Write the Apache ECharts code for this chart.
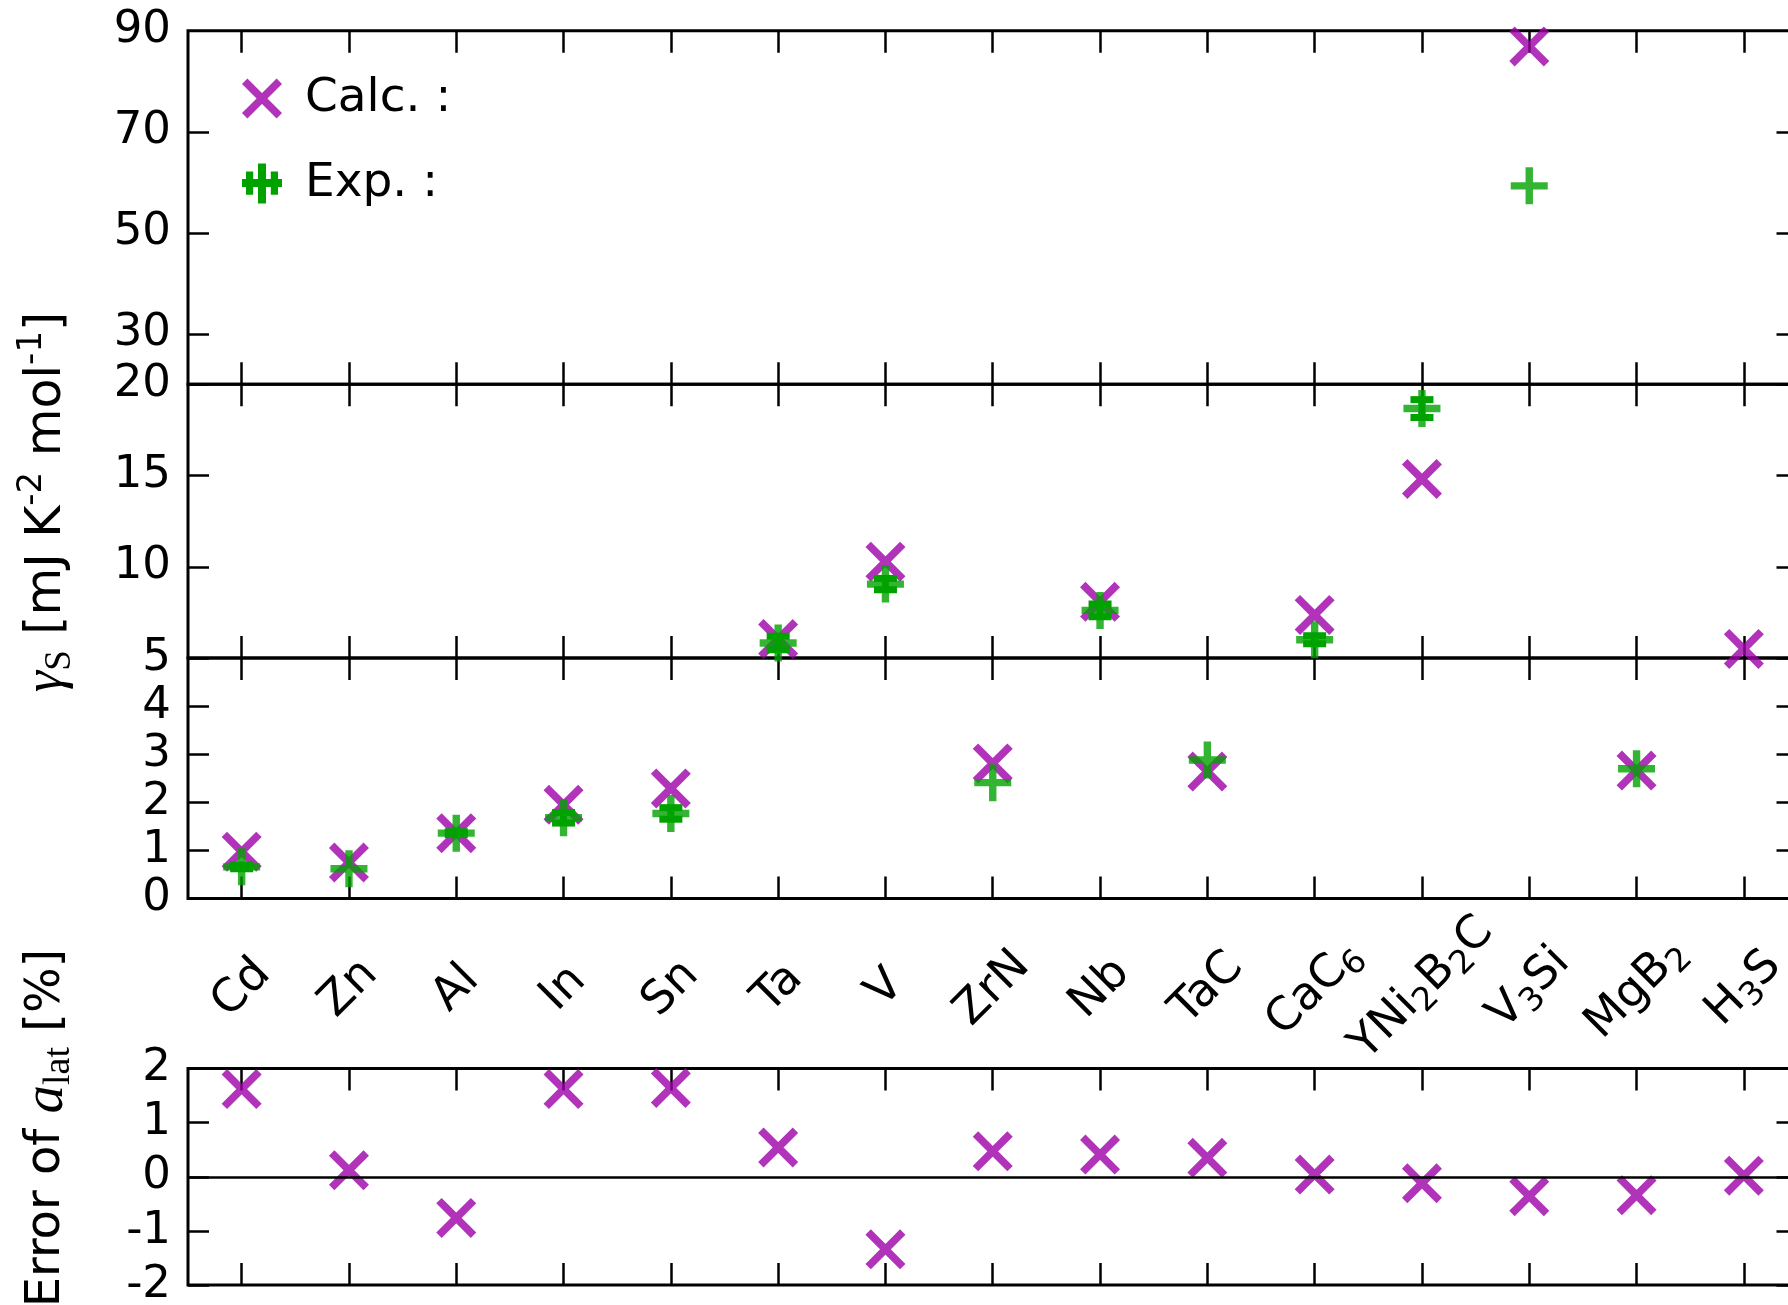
<!DOCTYPE html>
<html><head><meta charset="utf-8">
<script src="https://cdn.jsdelivr.net/npm/echarts@6/dist/echarts.min.js"></script>
<style>html,body{margin:0;padding:0;background:#fff}#c{width:1788px;height:1305px}</style>
</head><body><div id="c"></div>
<script>
// ---------------- data ----------------
const materials = ['Cd','Zn','Al','In','Sn','Ta','V','ZrN','Nb','TaC','CaC6','YNi2B2C','V3Si','MgB2','H3S'];
const materialLabels = ['Cd','Zn','Al','In','Sn','Ta','V','ZrN','Nb','TaC','CaC{s|6}','YNi{s|2}B{s|2}C','V{s|3}Si','MgB{s|2}','H{s|3}S'];
const gammaCalc = [0.975,0.75,1.36,1.95,2.29,6.04,10.28,2.81,8.08,2.64,7.36,14.81,86.9,2.66,5.5];
const gammaExp = [0.66,0.62,1.36,1.68,1.77,5.82,9.05,2.41,7.61,2.88,6.0,18.67,59.3,2.70,null];
const gammaExpErr = [0.04,0,0.03,0.11,0.12,0.37,0.31,0,0.35,0,0.22,0.49,0,0,null];
const latErr = [1.62,0.12,-0.76,1.62,1.64,0.54,-1.34,0.47,0.41,0.35,0.04,-0.12,-0.36,-0.34,0.02];
const topLabelTicks = [30,50,70,90];
const topInnerTicks = [30,50,70];
const midLabelTicks = [10,15,20];

// ---------------- style ----------------
const PURPLE = '#9c00a8', GREEN = '#00a200';
const FONT = 'DejaVu Sans';
const XPATH = 'path://M0,13.5L13.5,0L100,86.5L86.5,100ZM13.5,100L0,86.5L86.5,0L100,13.5Z';
const PLUS = 'path://M40,0L60,0L60,40L100,40L100,60L60,60L60,100L40,100L40,60L0,60L0,40L40,40Z';
const EXPLEG = 'path://M0,39L100,39L100,59L0,59ZM40,0L60,0L60,100L40,100ZM10,20L28,20L28,78L10,78ZM72,20L90,20L90,78L72,78Z';

const L = 188, W = 1609.5;
const grids = [
  {left:L, width:W, top:30.8, height:353.5},
  {left:L, width:W, top:384.3, height:273.7},
  {left:L, width:W, top:658, height:240.6},
  {left:L, width:W, top:1068.5, height:216.5}
].map(g => Object.assign(g, {show:true, borderColor:'#000', borderWidth:3, backgroundColor:'transparent', outerBoundsMode:'none', containLabel:false}));

const tickStyle = {color:'#000', width:2.5};
const xAxes = [], yAxes = [];
for (let g = 0; g < 4; g++) {
  ['bottom','top'].forEach(pos => {
    xAxes.push({
      gridIndex:g, type:'category', data:materials, position:pos, boundaryGap:true,
      axisLine:{show:false, onZero:false},
      axisTick:{show:true, inside:true, length:22, alignWithLabel:true, interval:0, lineStyle:tickStyle},
      axisLabel: (g === 2 && pos === 'bottom') ? {
        show:true, interval:0, rotate:45, align:'center', verticalAlign:'middle', margin:90,
        color:'#000', fontFamily:FONT, fontSize:46, lineHeight:56,
        formatter:(v, i) => materialLabels[i],
        rich:{s:{fontFamily:FONT, fontSize:33, lineHeight:33, verticalAlign:'bottom', color:'#000'}}
      } : {show:false},
      splitLine:{show:false}
    });
  });
  let yCfg;
  if (g === 0) yCfg = {min:20, max:90, tick:topInnerTicks, lab:topLabelTicks};
  else if (g === 1) yCfg = {min:5, max:20, interval:5, lab:midLabelTicks};
  else if (g === 2) yCfg = {min:0, max:5, interval:1};
  else yCfg = {min:-2, max:2, interval:1};
  ['left','right'].forEach(pos => {
    const ax = {
      gridIndex:g, type:'value', position:pos, min:yCfg.min, max:yCfg.max,
      axisLine:{show:false, onZero:false},
      axisTick:{show:true, inside:true, length:21, lineStyle:tickStyle},
      axisLabel:{show:pos === 'left', margin:17, color:'#000', fontFamily:FONT, fontSize:45},
      splitLine:{show:false}
    };
    if (yCfg.interval) ax.interval = yCfg.interval;
    if (yCfg.tick) ax.axisTick.customValues = yCfg.tick;
    if (yCfg.lab) ax.axisLabel.customValues = yCfg.lab;
    yAxes.push(ax);
  });
}

function inPanel(v, p) {
  if (v === null || v === undefined) return false;
  if (p === 0) return v > 20;
  if (p === 1) return v >= 5 && v <= 20;
  return v < 5;
}

function renderErr(params, api) {
  const i = api.value(0), v = api.value(1), e = api.value(2);
  const lo = api.coord([i, v - e]), hi = api.coord([i, v + e]);
  const cw = 23, th = 7;
  return {type:'group', children:[
    {type:'rect', shape:{x:lo[0]-th/2, y:hi[1], width:th, height:lo[1]-hi[1]}, style:{fill:GREEN}},
    {type:'rect', shape:{x:hi[0]-cw/2, y:hi[1]-th/2, width:cw, height:th}, style:{fill:GREEN}},
    {type:'rect', shape:{x:lo[0]-cw/2, y:lo[1]-th/2, width:cw, height:th}, style:{fill:GREEN}}
  ]};
}

const series = [];
for (let p = 0; p < 3; p++) {
  series.push({
    name:'Calc. :', type:'scatter', xAxisIndex:2*p, yAxisIndex:2*p,
    symbol:XPATH, symbolSize:40, itemStyle:{color:PURPLE}, z:2,
    data: gammaCalc.map(v => inPanel(v, p) ? v : '-')
  });
  const errData = [];
  gammaExp.forEach((v, i) => { if (inPanel(v, p) && gammaExpErr[i] > 0) errData.push([i, v, gammaExpErr[i]]); });
  series.push({
    name:'Exp. :', type:'custom', xAxisIndex:2*p, yAxisIndex:2*p, z:3,
    renderItem:renderErr, encode:{x:0, y:1}, itemStyle:{color:GREEN}, data:errData
  });
  series.push({
    name:'Exp. :', type:'scatter', xAxisIndex:2*p, yAxisIndex:2*p,
    symbol:PLUS, symbolSize:37, itemStyle:{color:GREEN}, z:4,
    data: gammaExp.map(v => inPanel(v, p) ? v : '-')
  });
}
series.push({
  name:'Error', type:'scatter', xAxisIndex:6, yAxisIndex:6,
  symbol:XPATH, symbolSize:40, itemStyle:{color:PURPLE}, z:3, data:latErr,
  markLine:{silent:true, symbol:'none', label:{show:false}, lineStyle:{color:'#000', width:2.5, type:'solid'}, data:[{yAxis:0}]}
});

const chart = echarts.init(document.getElementById('c'), null, {renderer:'canvas'});
chart.setOption({
  animation:false,
  backgroundColor:'#fff',
  grid:grids, xAxis:xAxes, yAxis:yAxes, series:series,
  legend:{
    orient:'vertical', left:237, top:70, itemWidth:40, itemHeight:40, itemGap:38, selectedMode:false,
    textStyle:{fontFamily:FONT, fontSize:47, color:'#000', padding:[0,0,0,18]},
    data:[{name:'Calc. :', icon:XPATH}, {name:'Exp. :', icon:EXPLEG}]
  },
  graphic:[
    {type:'text', x:47, y:502, rotation:Math.PI/2, style:{
      text:'{g|γ}{s|S} [mJ K{p|-2} mol{p|-1}]', fill:'#000', fontFamily:FONT, fontSize:49, lineHeight:64,
      align:'center', verticalAlign:'middle',
      rich:{
        g:{fontFamily:'Liberation Serif', fontStyle:'italic', fontSize:54},
        s:{fontFamily:'Liberation Serif', fontSize:37, lineHeight:37, verticalAlign:'bottom'},
        p:{fontFamily:FONT, fontSize:34, lineHeight:34, verticalAlign:'top'}
      }
    }},
    {type:'text', x:47, y:1128, rotation:Math.PI/2, style:{
      text:'Error of {a|a}{l|lat} [%]', fill:'#000', fontFamily:FONT, fontSize:48, lineHeight:62,
      align:'center', verticalAlign:'middle',
      rich:{
        a:{fontFamily:'Liberation Serif', fontStyle:'italic', fontSize:57},
        l:{fontFamily:'Liberation Serif', fontSize:38, lineHeight:38, verticalAlign:'bottom'}
      }
    }}
  ]
});
</script>
</body></html>
